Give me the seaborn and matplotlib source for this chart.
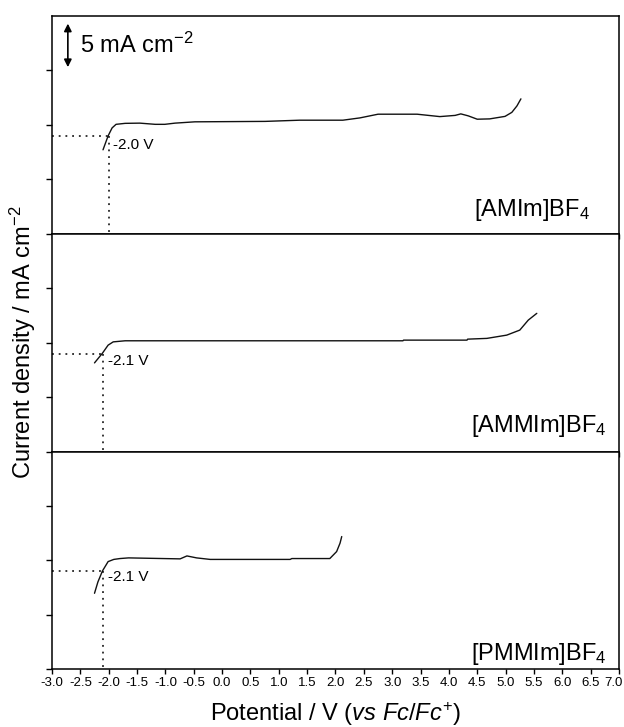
'''
linear sweep voltammograms of three ionic liquids, stacked panels
'''

import numpy as np
import pandas as pd
import matplotlib
matplotlib.use("Agg")
import matplotlib.pyplot as plt
import matplotlib.transforms as mtransforms
import seaborn as sns

# potential (V vs Fc/Fc+) and current density (mA cm-2, offset per panel)
amim_v = [-2.10, -2.01, -1.94, -1.87, -1.71, -1.45, -1.18, -1.01, -0.83, -0.48, 0.76, 1.37,
          2.13, 2.43, 2.75, 3.44, 3.84, 4.11, 4.21, 4.34, 4.50, 4.72, 4.99, 5.11, 5.20, 5.27]
amim_j = [7.71, 8.99, 9.72, 10.05, 10.14, 10.16, 10.05, 10.05, 10.16, 10.28, 10.32, 10.43,
          10.43, 10.64, 10.98, 10.98, 10.76, 10.87, 11.01, 10.83, 10.52, 10.55, 10.78, 11.15, 11.74, 12.39]

ammim_v = [-2.25, -2.11, -2.01, -1.92, -1.71, 3.19, 3.20, 4.32, 4.33, 4.67, 5.02, 5.25, 5.40, 5.55]
ammim_j = [8.14, 9.03, 9.77, 10.07, 10.17, 10.17, 10.23, 10.23, 10.32, 10.39, 10.69, 11.15, 12.07, 12.69]

pmmim_v = [-2.25, -2.19, -2.11, -2.01, -1.91, -1.80, -1.65, -0.74, -0.62, -0.45, -0.21,
           1.20, 1.23, 1.90, 2.02, 2.08, 2.11]
pmmim_j = [6.98, 8.02, 9.03, 9.89, 10.09, 10.17, 10.23, 10.14, 10.41, 10.23, 10.09,
           10.09, 10.17, 10.17, 10.81, 11.58, 12.19]

labels = ["[AMIm]BF$_\\mathregular{4}$", "[AMMIm]BF$_\\mathregular{4}$", "[PMMIm]BF$_\\mathregular{4}$"]
onset_v = [-2.0, -2.1, -2.1]
onset_j = [9.0, 9.0, 9.0]
onset_text = ["-2.0 V", "-2.1 V", "-2.1 V"]
label_x = [6.49, 6.79, 6.79]
label_y = [1.59, 1.78, 0.87]
text_y = [8.15, 8.34, 8.44]

x_ticks = np.arange(-3.0, 7.01, 0.5)

sns.set_style("ticks")
plt.rcParams['font.family'] = ['Liberation Sans', 'DejaVu Sans']
plt.rcParams['mathtext.fontset'] = 'custom'
plt.rcParams['mathtext.rm'] = 'Liberation Sans'
plt.rcParams['mathtext.it'] = 'Liberation Sans:italic'
plt.rcParams['mathtext.bf'] = 'Liberation Sans:bold'
plt.rcParams['axes.unicode_minus'] = False
for key in ['text.color', 'axes.labelcolor', 'xtick.color', 'ytick.color', 'axes.edgecolor']:
    plt.rcParams[key] = 'black'

fig, axes = plt.subplots(3, 1, sharex=True, figsize=(6.24, 7.27), dpi=100)
fig.subplots_adjust(left=0.0833, right=0.992, top=0.978, bottom=0.0794, hspace=0)

curves = [(amim_v, amim_j), (ammim_v, ammim_j), (pmmim_v, pmmim_j)]
for i, ax in enumerate(axes):
    df = pd.DataFrame({"v": curves[i][0], "j": curves[i][1]})
    sns.lineplot(data=df, x="v", y="j", ax=ax, sort=False, estimator=None,
                 color="#111111", linewidth=1.0)
    # onset guides
    ax.plot([-3.0, onset_v[i]], [onset_j[i], onset_j[i]], color="black", lw=1.1,
            linestyle=(0, (1.2, 3.2)))
    ax.plot([onset_v[i], onset_v[i]], [onset_j[i], 0], color="black", lw=1.1,
            linestyle=(0, (1.2, 3.2)))
    ax.text(onset_v[i] + 0.08, text_y[i], onset_text[i], fontsize=11, va="center", ha="left")
    ax.text(label_x[i], label_y[i], labels[i], fontsize=17, ha="right", va="baseline")

    ax.set_xlim(-3.0, 7.0)
    ax.set_ylim(0, 20)
    ax.set_yticks([0, 5, 10, 15])
    ax.set_yticklabels([])
    ax.set_xticks(x_ticks)
    ax.tick_params(axis="x", direction="out", length=3.5, width=1.0, labelsize=9.5, pad=2)
    ax.tick_params(axis="y", direction="out", length=4, width=1.0)
    ax.set_xlabel("")
    ax.set_ylabel("")
    for s in ax.spines.values():
        s.set_visible(True)
        s.set_linewidth(1.1)
        s.set_color("black")

axes[2].set_xticklabels(["%.1f" % t for t in x_ticks])
# last label pulled inside the figure like in the original
last = axes[2].get_xticklabels()[-1]
last.set_horizontalalignment("right")
last.set_transform(last.get_transform() + mtransforms.ScaledTranslation(4 / 100, 0, fig.dpi_scale_trans))
axes[2].set_xlabel("Potential / V ($\\mathit{vs\\ Fc/Fc}^{\\mathregular{+}}$)", fontsize=17, labelpad=8)

# scale bar
axes[0].annotate("", xy=(-2.72, 19.3), xytext=(-2.72, 15.3),
                 arrowprops=dict(arrowstyle="<|-|>", color="black", lw=1.2, mutation_scale=11,
                                 shrinkA=0, shrinkB=0))
axes[0].text(-2.50, 17.3, "5 mA cm$^{\\mathregular{-2}}$", fontsize=17, va="center", ha="left")

fig.text(0.036, 0.529, "Current density / mA cm$^{\\mathregular{-2}}$", fontsize=17,
         rotation=90, ha="center", va="center")

plt.savefig("out.png", dpi=100)
